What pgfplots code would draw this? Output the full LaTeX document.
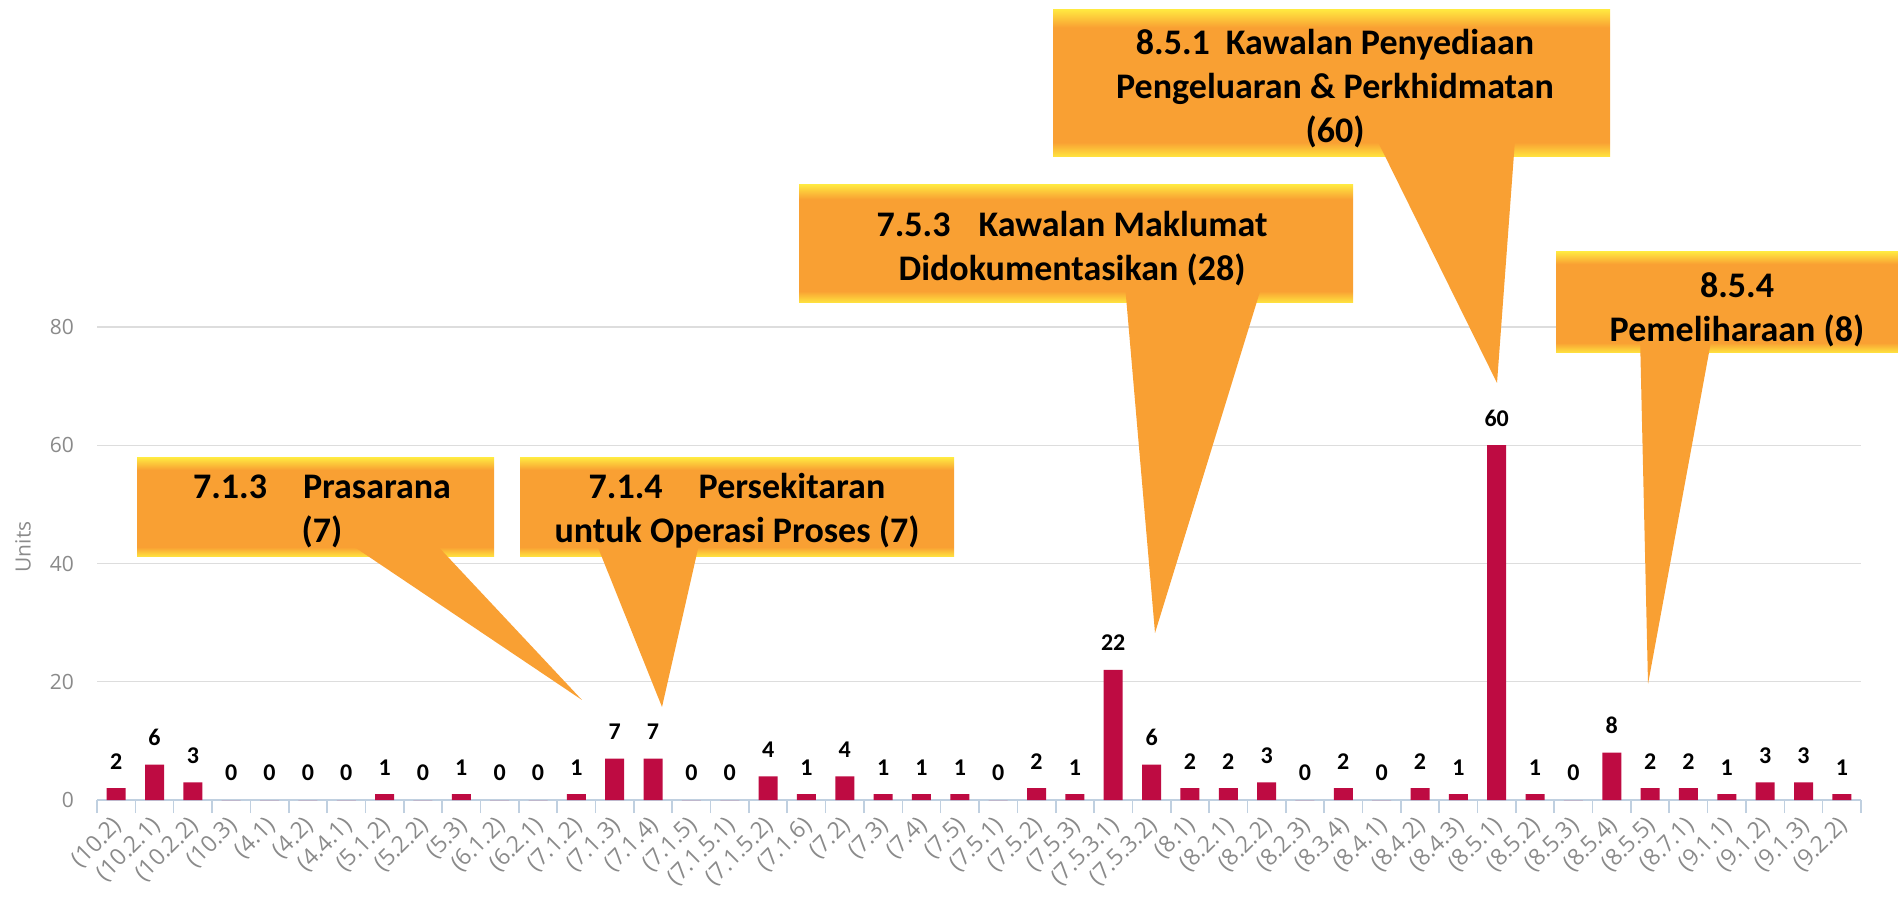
\documentclass[border=0pt]{standalone}
\usepackage{fontspec}
\setmainfont{Carlito}
\newfontfamily\tickfont{Open Sans}
\usepackage{pgfplots}
\pgfplotsset{compat=1.18}
\definecolor{barc}{HTML}{BE0B42}
\definecolor{co}{HTML}{F9A033}
\definecolor{cy}{HTML}{FFE640}
\definecolor{gridc}{HTML}{DDDDDD}
\definecolor{axisc}{HTML}{C0D0E0}
\definecolor{tickc}{HTML}{8A8A8A}
\pgfdeclareverticalshading{callout}{100bp}{color(0bp)=(cy); color(25bp)=(cy); color(30bp)=(co); color(69bp)=(co); color(75bp)=(cy); color(100bp)=(cy)}
\newcommand\callfont{\bfseries\fontsize{18}{22}\selectfont}
\begin{document}
\begin{tikzpicture}
\path[use as bounding box] (0,0) rectangle (949pt,449.5pt);
\begin{axis}[
  at={(48.5pt,49.5pt)}, anchor=south west,
  scale only axis, width=882pt, height=236.5pt,
  xmin=-0.5, xmax=45.5, ymin=0, ymax=80,
  clip=false,
  axis x line*=bottom, axis y line*=left,
  y axis line style={draw=none},
  x axis line style={draw=axisc, line width=0.8pt},
  ymajorgrids, grid style={gridc, line width=0.7pt},
  ytick={0,20,40,60,80},
  xtick={0,...,45},
  major tick length=0pt,
  tick align=outside,
  extra x ticks={-0.5,0.5,...,45.5},
  extra x tick labels={},
  extra x tick style={major tick length=6.5pt, tick style={draw=axisc, line width=0.8pt}},
  xticklabels={(10.2),(10.2.1),(10.2.2),(10.3),(4.1),(4.2),(4.4.1),(5.1.2),(5.2.2),(5.3),(6.1.2),(6.2.1),(7.1.2),(7.1.3),(7.1.4),(7.1.5),(7.1.5.1),(7.1.5.2),(7.1.6),(7.2),(7.3),(7.4),(7.5),(7.5.1),(7.5.2),(7.5.3),(7.5.3.1),(7.5.3.2),(8.1),(8.2.1),(8.2.2),(8.2.3),(8.3.4),(8.4.1),(8.4.2),(8.4.3),(8.5.1),(8.5.2),(8.5.3),(8.5.4),(8.5.5),(8.7.1),(9.1.1),(9.1.2),(9.1.3),(9.2.2)},
  xticklabel style={xshift=3.5pt, yshift=-8.5pt, rotate=45, anchor=east, font=\tickfont\fontsize{11.5}{11.5}\selectfont, text=tickc},
  yticklabel style={anchor=east, xshift=-8pt, font=\tickfont\fontsize{10.5}{10.5}\selectfont, text=tickc},
  /pgf/number format/assume math mode=true,
  ylabel={Units},
  every axis y label/.style={at={(rel axis cs:-0.042,0.535)}, rotate=90, anchor=center, font=\tickfont\fontsize{10.5}{10.5}\selectfont, text=tickc},
]
\addplot[ybar, bar width=9.5pt, fill=barc, draw=none,
  nodes near coords,
  every node near coord/.append style={font=\bfseries\fontsize{12}{12}\selectfont, text=black, yshift=6pt}]
coordinates {
(0,2) (1,6) (2,3) (3,0) (4,0) (5,0) (6,0) (7,1) (8,0) (9,1)
(10,0) (11,0) (12,1) (13,7) (14,7) (15,0) (16,0) (17,4) (18,1) (19,4)
(20,1) (21,1) (22,1) (23,0) (24,2) (25,1) (26,22) (27,6) (28,2) (29,2)
(30,3) (31,0) (32,2) (33,0) (34,2) (35,1) (36,60) (37,1) (38,0) (39,8)
(40,2) (41,2) (42,1) (43,3) (44,3) (45,1)
};
\end{axis}
\begin{scope}[shift={(0pt,449.5pt)}, x=0.5pt, y=-0.5pt]
  % boxes
  \shade[shading=callout] (137,458) rectangle (494,557);
  \shade[shading=callout] (520,458) rectangle (954,557);
  \shade[shading=callout] (799,185) rectangle (1353,303);
  \shade[shading=callout] (1053,10) rectangle (1610,157);
  \shade[shading=callout] (1556,252) rectangle (1910,353);
  % wedges
  \fill[co] (344,540) -- (432,540) -- (582,700) -- cycle;
  \fill[co] (595,540) -- (700,540) -- (662,707) -- cycle;
  \fill[co] (1125,285) -- (1262,285) -- (1155,633) -- cycle;
  \fill[co] (1377,140) -- (1515,140) -- (1497,383) -- cycle;
  \fill[co] (1640,336) -- (1712,336) -- (1648,684) -- cycle;
  % texts
  \node[align=center, font=\callfont] at (322,511) {7.1.3\hspace{18pt}Prasarana\\(7)};
  \node[align=center, font=\callfont] at (737,511) {7.1.4\hspace{18pt}Persekitaran\\untuk Operasi Proses (7)};
  \node[align=center, font=\callfont] at (1072,249) {7.5.3\hspace{14pt}Kawalan Maklumat\\Didokumentasikan (28)};
  \node[align=center, font=\callfont] at (1335,89) {8.5.1\hspace{8pt}Kawalan Penyediaan\\Pengeluaran \& Perkhidmatan\\(60)};
  \node[align=center, font=\callfont] at (1737,310) {8.5.4\\Pemeliharaan (8)};
\end{scope}
\end{tikzpicture}
\end{document}
